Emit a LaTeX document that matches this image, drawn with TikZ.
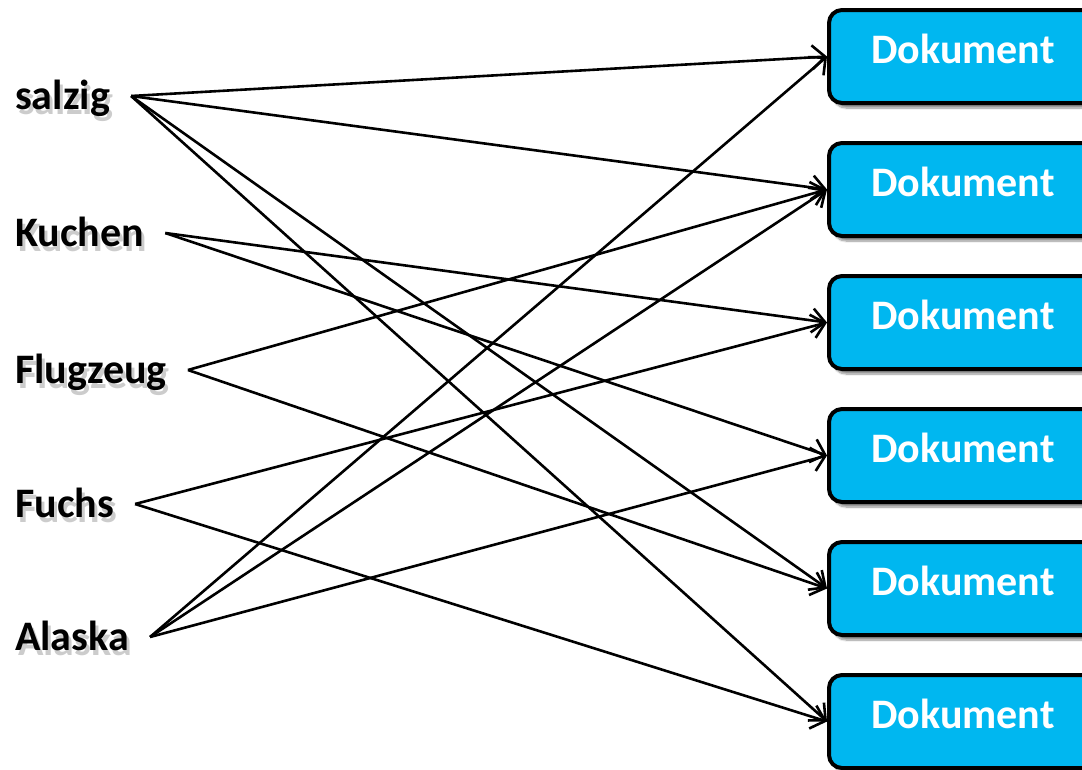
\documentclass[tikz,border=0pt]{standalone}
\usepackage{fontspec}
\setmainfont{Carlito}
\usetikzlibrary{arrows.meta,shadows.blur}
\definecolor{docblue}{RGB}{0,183,240}
\tikzset{
  labeltext/.style={font=\fontsize{42}{50}\selectfont\bfseries, text height=27pt, text depth=0pt,
    inner ysep=0pt, inner xsep=21pt},
  labelshade/.style={labeltext, text=black, opacity=0.2},
  docbox/.style={draw=black, line width=4pt, fill=docblue, rounded corners=13pt,
    minimum width=268pt, minimum height=93pt, anchor=west, text=white,
    text height=27pt, text depth=14pt,
    font=\fontsize{42}{48}\selectfont\bfseries,
    blur shadow={shadow xshift=4pt, shadow yshift=-5pt, shadow blur steps=8, shadow opacity=45}},
  link/.style={draw=black, line width=2.6pt, -{Straight Barb[length=13pt, width=24pt, line width=2.6pt]}}
}
% a bold term with a soft grey drop shadow behind it
\newcommand{\shadedlabel}[3]{%
  \node[labelshade, anchor=west] at (15-21+3, #2+5) {#3};
  \node[labeltext, anchor=west] (#1) at (15-21, #2) {#3};
}
\begin{document}
\begin{tikzpicture}[x=1pt, y=-1pt]
  \useasboundingbox (0,0) rectangle (1082,769);
  \begin{scope}
    \clip (0,0) rectangle (1082,769);
    % document boxes on the right
    \node[docbox] (d1) at (827,56.5)  {Dokument};
    \node[docbox] (d2) at (827,189.5) {Dokument};
    \node[docbox] (d3) at (827,322.5) {Dokument};
    \node[docbox] (d4) at (827,455.5) {Dokument};
    \node[docbox] (d5) at (827,588.5) {Dokument};
    \node[docbox] (d6) at (827,721.5) {Dokument};
  \end{scope}
  % terms on the left
  \shadedlabel{salzig}{96}{salzig}
  \shadedlabel{kuchen}{233}{Kuchen}
  \shadedlabel{flugzeug}{370}{Flugzeug}
  \shadedlabel{fuchs}{504}{Fuchs}
  \shadedlabel{alaska}{637}{Alaska}
  % term-document links
  \draw[link] (salzig.east) -- (d1.west);
  \draw[link] (salzig.east) -- (d2.west);
  \draw[link] (salzig.east) -- (d5.west);
  \draw[link] (salzig.east) -- (d6.west);
  \draw[link] (kuchen.east) -- (d3.west);
  \draw[link] (kuchen.east) -- (d4.west);
  \draw[link] (flugzeug.east) -- (d2.west);
  \draw[link] (flugzeug.east) -- (d5.west);
  \draw[link] (fuchs.east) -- (d3.west);
  \draw[link] (fuchs.east) -- (d6.west);
  \draw[link] (alaska.east) -- (d1.west);
  \draw[link] (alaska.east) -- (d2.west);
  \draw[link] (alaska.east) -- (d4.west);
\end{tikzpicture}
\end{document}
